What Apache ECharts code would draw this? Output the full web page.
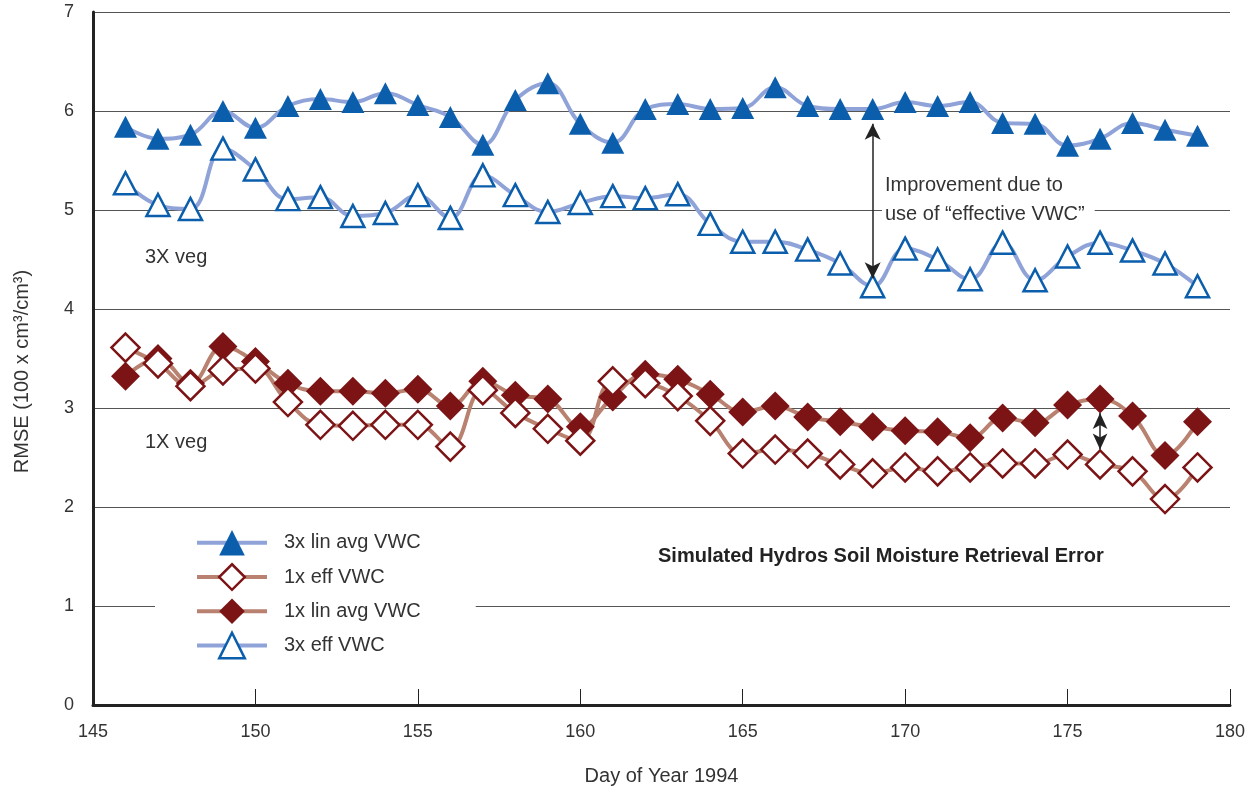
<!DOCTYPE html>
<html><head><meta charset="utf-8">
<script src="https://cdn.jsdelivr.net/npm/echarts@6/dist/echarts.min.js"></script>
<style>html,body{margin:0;padding:0;background:#fff;overflow:hidden}#c{width:1251px;height:791px}</style>
</head><body><div id="c"></div>
<script>
const days = [146,147,148,149,150,151,152,153,154,155,156,157,158,159,160,161,162,163,164,165,166,167,168,169,170,171,172,173,174,175,176,177,178,179];
const lin3 = [5.84,5.72,5.76,6.00,5.83,6.05,6.12,6.09,6.18,6.06,5.94,5.66,6.11,6.28,5.87,5.68,6.02,6.07,6.02,6.03,6.24,6.05,6.02,6.02,6.09,6.05,6.09,5.88,5.87,5.65,5.72,5.88,5.81,5.75];
const eff3 = [5.27,5.05,5.01,5.62,5.41,5.11,5.13,4.94,4.97,5.15,4.92,5.35,5.15,4.98,5.07,5.14,5.12,5.16,4.86,4.68,4.68,4.60,4.46,4.23,4.61,4.50,4.30,4.67,4.29,4.53,4.67,4.59,4.46,4.23];
const lin1 = [3.32,3.50,3.25,3.62,3.47,3.25,3.17,3.17,3.15,3.19,3.02,3.27,3.13,3.09,2.81,3.11,3.34,3.29,3.14,2.96,3.02,2.91,2.86,2.81,2.77,2.76,2.70,2.90,2.85,3.03,3.09,2.92,2.52,2.86];
const eff1 = [3.61,3.45,3.22,3.38,3.40,3.06,2.83,2.82,2.83,2.83,2.61,3.18,2.95,2.79,2.67,3.27,3.25,3.12,2.87,2.54,2.58,2.54,2.43,2.34,2.40,2.36,2.40,2.44,2.44,2.53,2.43,2.36,2.08,2.40];
const seriesNames = ['3x lin avg VWC','1x eff VWC','1x lin avg VWC','3x eff VWC'];
const bigArrow = [[169,5.87],[169,4.31]];
const smallArrow = [[176,2.95],[176,2.58]];

const FONT = 'Liberation Sans';
const TXT = '#333';
const BLUE = '#0b5eac', BLUE_LINE = '#8fa3d8';
const RED = '#7c1416', RED_LINE = '#b98170';
const pair = (xs, ys) => xs.map((x,i)=>[x, ys[i]]);

const chart = echarts.init(document.getElementById('c'), null, {renderer:'canvas'});
chart.setOption({
  animation:false,
  textStyle:{fontFamily:FONT},
  grid:{left:93,width:1137,top:12,height:694,containLabel:false},
  xAxis:{type:'value',min:145,max:180,interval:5,
    name:'Day of Year 1994',nameLocation:'middle',nameGap:61,
    nameTextStyle:{fontSize:20,color:TXT,fontFamily:FONT},
    axisLine:{lineStyle:{color:'#222',width:3}},
    axisTick:{inside:true,length:16,lineStyle:{color:'#222',width:1}},
    axisLabel:{fontSize:18,color:TXT,margin:18,fontFamily:FONT},
    splitLine:{show:false}},
  yAxis:{type:'value',min:0,max:7,interval:1,
    name:'RMSE (100 x cm³/cm³)',nameLocation:'middle',nameGap:61,
    nameTextStyle:{fontSize:20,color:TXT,fontFamily:FONT,padding:[0,0,0,-26]},
    axisLine:{show:true,lineStyle:{color:'#222',width:3}},
    axisTick:{show:false},
    axisLabel:{fontSize:18,color:TXT,margin:19,fontFamily:FONT},
    splitLine:{lineStyle:{color:'#555',width:1.2}}},
  legend:{
    data:[
      {name:seriesNames[0]},
      {name:seriesNames[1],itemStyle:{borderWidth:2.5}},
      {name:seriesNames[2]},
      {name:seriesNames[3],itemStyle:{borderWidth:2.5}}
    ],
    orient:'vertical',left:155,top:518,
    padding:[12,55,12,40],itemGap:7.4,itemWidth:70,itemHeight:32,
    backgroundColor:'#fff',
    lineStyle:{width:4},
    textStyle:{fontSize:20,color:TXT,fontFamily:FONT,padding:[0,0,0,12]}
  },
  graphic:[
    {type:'text',left:145,top:247,style:{text:'3X veg',font:'20px "Liberation Sans"',fill:TXT}},
    {type:'text',left:145,top:432,style:{text:'1X veg',font:'20px "Liberation Sans"',fill:TXT}},
    {type:'text',left:882,top:171,z:10,style:{text:'Improvement due to\nuse of “effective VWC”',font:'20px "Liberation Sans"',fill:TXT,lineHeight:29,backgroundColor:'#fff',padding:[0,10,0,3]}},
    {type:'text',left:658,top:546,style:{text:'Simulated Hydros Soil Moisture Retrieval Error',font:'bold 20px "Liberation Sans"',fill:'#222'}}
  ],
  series:[
    {name:seriesNames[0],type:'line',data:pair(days,lin3),smooth:0.4,
      symbol:'triangle',symbolSize:[23,22],
      lineStyle:{color:BLUE_LINE,width:4},
      itemStyle:{color:BLUE,borderWidth:0}},
    {name:seriesNames[3],type:'line',data:pair(days,eff3),smooth:0.4,
      symbol:'triangle',symbolSize:[23,22],
      lineStyle:{color:BLUE_LINE,width:4},
      itemStyle:{color:'#fff',borderColor:BLUE,borderWidth:2.5},
      markLine:{silent:true,symbol:['arrow','arrow'],symbolSize:[12,16],label:{show:false},
        lineStyle:{color:'#222',width:1.5,type:'solid'},
        data:[[{coord:bigArrow[0]},{coord:bigArrow[1]}]]}},
    {name:seriesNames[2],type:'line',data:pair(days,lin1),smooth:0.4,
      symbol:'diamond',symbolSize:[29,29],
      lineStyle:{color:RED_LINE,width:4},
      itemStyle:{color:RED,borderWidth:0},
      markLine:{silent:true,symbol:['arrow','arrow'],symbolSize:[11,16],label:{show:false},
        lineStyle:{color:'#222',width:1.5,type:'solid'},
        data:[[{coord:smallArrow[0]},{coord:smallArrow[1]}]]}},
    {name:seriesNames[1],type:'line',data:pair(days,eff1),smooth:0.4,
      symbol:'diamond',symbolSize:[28,28],
      lineStyle:{color:RED_LINE,width:4},
      itemStyle:{color:'#fff',borderColor:RED,borderWidth:2.5}}
  ]
});
</script></body></html>
